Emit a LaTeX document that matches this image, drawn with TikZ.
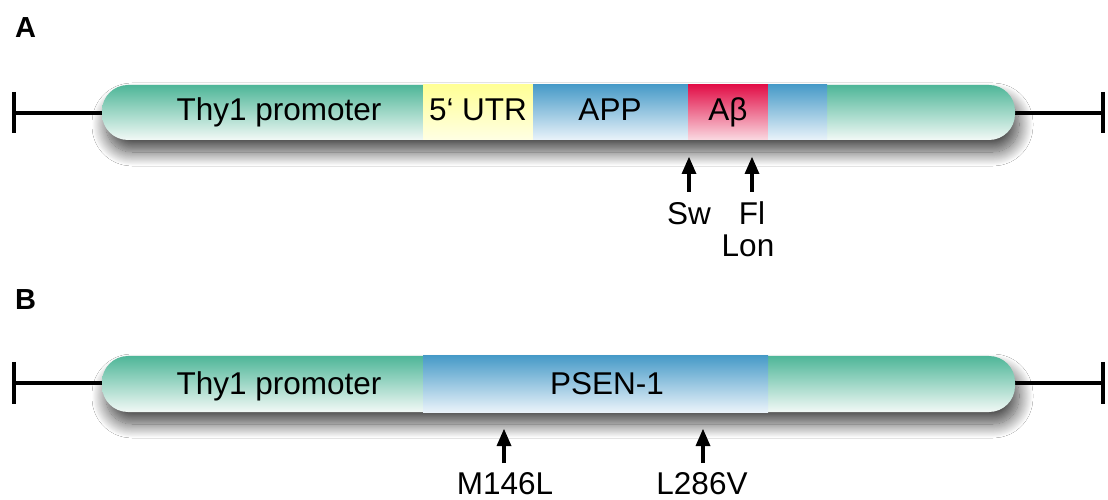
\documentclass[tikz,border=0pt]{standalone}
\usepackage{fontspec}
\setmainfont{Liberation Sans}
\usetikzlibrary{arrows.meta,shadows.blur}
\definecolor{gtop}{RGB}{78,182,152}
\definecolor{gbot}{RGB}{242,249,246}
\definecolor{btop}{RGB}{72,155,200}
\definecolor{bbot}{RGB}{234,243,250}
\definecolor{ytop}{RGB}{255,255,150}
\definecolor{ybot}{RGB}{255,255,228}
\definecolor{rtop}{RGB}{226,16,72}
\definecolor{rbot}{RGB}{250,218,226}
\tikzset{
  barshape/.style={top color=gtop, bottom color=gbot, rounded corners=26bp,
    blur shadow={shadow xshift=4bp, shadow yshift=-12bp, shadow blur radius=14bp, shadow blur steps=20, shadow opacity=72}},
  greenseg/.style={top color=gtop, bottom color=gbot},
  blueseg/.style={top color=btop, bottom color=bbot},
  yellowseg/.style={top color=ytop, bottom color=ybot},
  redseg/.style={top color=rtop, bottom color=rbot},
  lbl/.style={font=\fontsize{31.5bp}{36bp}\selectfont, inner sep=0pt, anchor=base},
  panel/.style={font=\fontsize{29bp}{33bp}\selectfont\bfseries, inner sep=0pt, anchor=base west},
  endline/.style={line width=3.3bp, black},
  mut/.style={line width=3.3bp, -{Triangle[length=17bp,width=15bp,line width=0pt,fill=black]}}
}
\begin{document}
\begin{tikzpicture}[x=1bp,y=-1bp]
\useasboundingbox[fill=white] (0,0) rectangle (1108,500);

% ---------- Panel A ----------
\node[panel] (pa) at (15,38) {A};
\coordinate (al) at (14,113);
\coordinate (ar) at (1103,113);
\coordinate (abl) at (102,113);
\coordinate (abr) at (1015,113);
\draw[endline] (al) -- (abl);
\draw[endline] (abr) -- (ar);
\draw[endline] (14,92) -- (14,133);
\draw[endline] (1103,92) -- (1103,133);
\path[barshape] (102,85) rectangle (1015,140);
\path[yellowseg] (423,85) rectangle (533,140);
\path[blueseg] (533,85) rectangle (688,140);
\path[redseg] (688,85) rectangle (768,140);
\path[blueseg] (768,85) rectangle (827,140);
\node[lbl] (thyA) at (279,121) {Thy1 promoter};
\node[lbl] (utr) at (478,121) {5‘ UTR};
\node[lbl] (app) at (610,121) {APP};
\node[lbl] (abeta) at (728,121) {Aβ};

\coordinate (swb) at (689,192);
\coordinate (swt) at (689,157);
\coordinate (flb) at (752,192);
\coordinate (flt) at (752,157);
\draw[mut] (swb) -- (swt);
\draw[mut] (flb) -- (flt);
\node[lbl] (sw) at (689,225) {Sw};
\node[lbl] (fl) at (752,225) {Fl};
\node[lbl] (lon) at (748,257) {Lon};

% ---------- Panel B ----------
\node[panel] (pb) at (15,310) {B};
\coordinate (bl) at (14,383);
\coordinate (br) at (1103,383);
\coordinate (bbl) at (102,383);
\coordinate (bbr) at (1015,383);
\draw[endline] (bl) -- (bbl);
\draw[endline] (bbr) -- (br);
\draw[endline] (14,362) -- (14,404);
\draw[endline] (1103,362) -- (1103,404);
\path[barshape] (102,356) rectangle (1015,412);
\path[blueseg] (423,356) rectangle (768,412);
\node[lbl] (thyB) at (279,394) {Thy1 promoter};
\node[lbl] (psen) at (607,394) {PSEN-1};

\coordinate (mb) at (504,463);
\coordinate (mt) at (504,429);
\coordinate (lb) at (703,463);
\coordinate (lt) at (703,429);
\draw[mut] (mb) -- (mt);
\draw[mut] (lb) -- (lt);
\node[lbl] (m146) at (505,494) {M146L};
\node[lbl] (l286) at (702,494) {L286V};
\end{tikzpicture}
\end{document}
